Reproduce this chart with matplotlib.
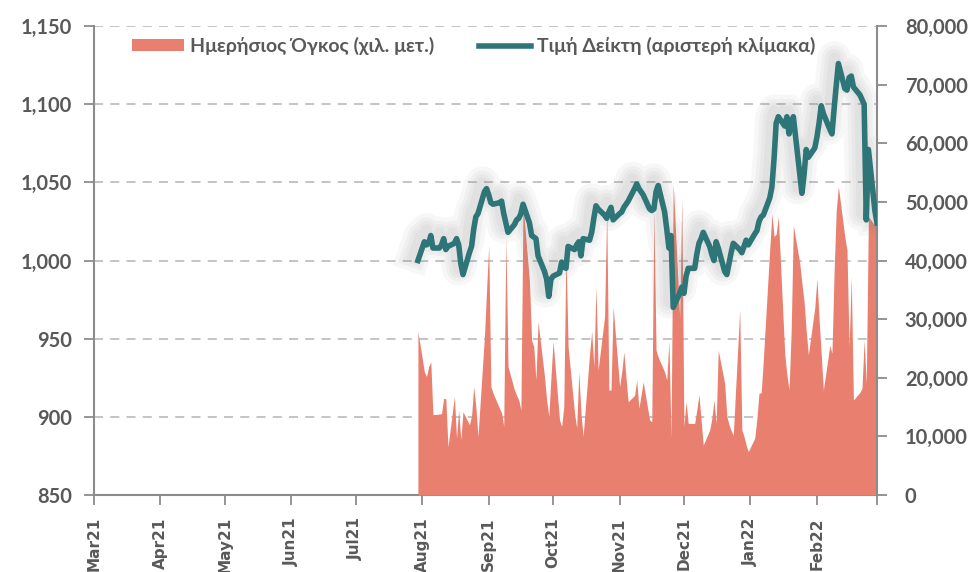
import matplotlib
matplotlib.use('Agg')
import matplotlib.pyplot as plt
import matplotlib.patheffects as pe
from matplotlib.patches import Patch
from matplotlib.lines import Line2D
from matplotlib.ticker import FuncFormatter
import pandas as pd

# --- data ---
dates = pd.bdate_range('2021-07-30', '2022-03-01')

index_values = [
    1000,
    1012, 1010, 1011, 1016, 1008,
    1008, 1010, 1014, 1007, 1009,
    1011, 1014, 1010, 998, 991,
    1005, 1009, 1020, 1028, 1030,
    1044, 1046, 1042, 1037, 1036,
    1037, 1038, 1030, 1024, 1018,
    1023, 1026, 1027, 1030, 1036,
    1024, 1016, 1015, 1014, 1003,
    993, 988, 977, 988, 990,
    992, 999, 996, 995, 1009,
    1007, 1010, 1012, 1003, 1014,
    1013, 1018, 1027, 1035, 1033,
    1029, 1027, 1031, 1034, 1026,
    1030, 1031, 1034, 1036, 1038,
    1046, 1049, 1046, 1044, 1042,
    1033, 1032, 1033, 1044, 1048,
    1031, 1020, 1008, 1016, 970,
    979, 983, 979, 990, 995,
    995, 1004, 1011, 1014, 1018,
    1009, 1004, 1000, 1012, 1008,
    993, 991, 998, 1005, 1011,
    1007, 1005, 1009, 1013, 1010,
    1017, 1019, 1025, 1028, 1029,
    1040, 1047, 1065, 1088, 1092,
    1086, 1092, 1081, 1088, 1092,
    1055, 1043, 1055, 1071, 1066,
    1072, 1079, 1088, 1099, 1094,
    1084, 1081, 1097, 1112, 1126,
    1110, 1109, 1117, 1118, 1111,
    1106, 1103, 1100, 1026, 1071,
    1032, 1024,
]

volume_values = [
    27900,
    21000, 20200, 21900, 22700, 13700,
    13800, 13900, 16500, 16400, 8200,
    16800, 9700, 14500, 9400, 14200,
    12000, 13500, 18500, 15000, 10000,
    27000, 35000, 42600, 18500, 17400,
    14800, 14000, 11700, 44000, 21900,
    17900, 17000, 16200, 14500, 49500,
    36400, 26400, 25300, 19600, 29600,
    20200, 16200, 13400, 20000, 26200,
    12800, 11700, 15100, 41800, 25300,
    14000, 11400, 21000, 14000, 10000,
    24000, 27900, 21900, 35500, 21300,
    30400, 48600, 17900, 17900, 32100,
    18500, 21000, 24400, 20000, 15900,
    17000, 19600, 14800, 17000, 19300,
    12800, 12500, 48300, 24700, 23500,
    21000, 19600, 26400, 9700, 53200,
    30400, 50600, 11700, 15900, 12200,
    12200, 14500, 17100, 12800, 8500,
    11100, 13000, 16200, 12200, 24700,
    19000, 13400, 12000, 11000, 10200,
    31600, 11100, 10000, 8500, 7400,
    9700, 13000, 17400, 17400, 23000,
    42000, 48000, 44100, 44500, 47500,
    24000, 20500, 17900, 28000, 46000,
    39500, 36100, 33000, 28000, 23900,
    32000, 36900, 30000, 24000, 17900,
    25500, 24200, 38000, 48600, 52600,
    44000, 41800, 25300, 37200, 16200,
    17500, 18200, 26400, 19000, 47500,
    46000, 70000,
]

month_ticks = pd.date_range('2021-03-01', '2022-03-01', freq='MS')
month_labels = ['Mar21', 'Apr21', 'May21', 'Jun21', 'Jul21', 'Aug21', 'Sep21',
                'Oct21', 'Nov21', 'Dec21', 'Jan22', 'Feb22', '']
left_ticks = [850, 900, 950, 1000, 1050, 1100, 1150]
right_ticks = [0, 10000, 20000, 30000, 40000, 50000, 60000, 70000, 80000]

volume_label = 'Ημερήσιος Όγκος (χιλ. μετ.)'
index_label = 'Τιμή Δείκτη (αριστερή κλίμακα)'

line_color = '#2E7578'
area_color = '#E97F6E'
text_color = '#595959'
axis_color = '#8C8C8C'

plt.rcParams['font.family'] = ['Lato', 'Noto Sans', 'DejaVu Sans']
plt.rcParams['font.weight'] = 'bold'

fig = plt.figure(figsize=(9.71, 5.72), dpi=100)
ax = fig.add_axes([0.0968, 0.1346, 0.8064, 0.8199])
ax2 = ax.twinx()
ax3 = fig.add_axes(ax.get_position(), sharex=ax, sharey=ax)
ax3.axis('off')
ax3.patch.set_visible(False)

# left axis: index scale + grid
ax.set_ylim(850, 1150)
ax.set_yticks(left_ticks)
ax.yaxis.set_major_formatter(FuncFormatter(lambda v, p: f'{v:,.0f}'))
ax.grid(axis='y', color='#BFBFBF', linestyle=(0, (5, 4)), linewidth=1.3)
ax.set_axisbelow(True)
ax.set_xlim(month_ticks[0], month_ticks[-1])
ax.set_xticks(month_ticks)
ax.set_xticklabels(month_labels)

for side in ['top', 'right']:
    ax.spines[side].set_visible(False)
for side in ['left', 'bottom']:
    ax.spines[side].set_color(axis_color)
    ax.spines[side].set_linewidth(1.5)

ax.tick_params(axis='y', direction='out', length=7, width=1.3, color=axis_color,
               labelsize=14.5, labelcolor=text_color, pad=9)
ax.tick_params(axis='x', direction='out', length=7, width=1.3, color=axis_color,
               labelsize=11, labelcolor=text_color, pad=9, labelrotation=90)
for lbl in ax.get_xticklabels():
    lbl.set_fontfamily('DejaVu Sans')
    lbl.set_fontweight('bold')
    lbl.set_va('top')

# right axis: daily volume area
ax2.fill_between(dates, volume_values, 0, color=area_color, linewidth=0)
ax2.set_ylim(0, 80000)
ax2.set_yticks(right_ticks)
ax2.yaxis.set_major_formatter(FuncFormatter(lambda v, p: f'{v:,.0f}'))
for side in ['top', 'left', 'bottom']:
    ax2.spines[side].set_visible(False)
ax2.spines['right'].set_color(axis_color)
ax2.spines['right'].set_linewidth(1.5)
ax2.tick_params(axis='y', direction='out', length=7, width=1.3, color=axis_color,
                labelsize=14.5, labelcolor=text_color, pad=13)

# index line on top, with soft shadow
shadow = [pe.SimpleLineShadow(offset=(-3, 4), shadow_color='#7F7F7F', alpha=0.06, linewidth=w)
          for w in (24, 18, 13, 8)]
ax3.plot(dates, index_values, color=line_color, linewidth=4, solid_joinstyle='round',
         path_effects=shadow + [pe.Normal()])

handles = [Patch(facecolor=area_color, edgecolor='none'),
           Line2D([0], [0], color=line_color, linewidth=4)]
ax3.legend(handles, [volume_label, index_label], ncol=2, loc='center left',
           bbox_to_anchor=(0.048, 0.957), frameon=False, fontsize=14,
           handlelength=2.7, handleheight=0.55, handletextpad=0.3,
           columnspacing=2.3, labelcolor=text_color, borderpad=0, borderaxespad=0)

fig.savefig('out.png', dpi=100)
